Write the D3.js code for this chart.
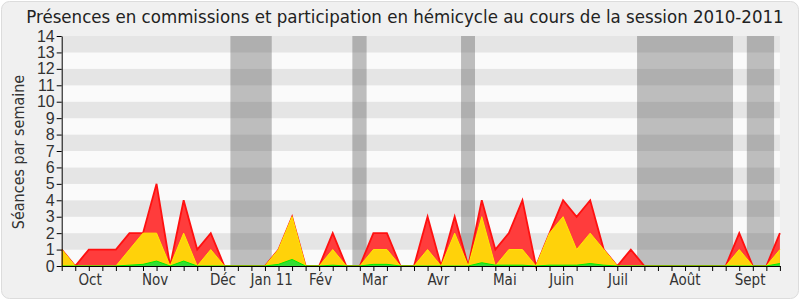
<!DOCTYPE html>
<html>
<head>
<meta charset="utf-8">
<script src="https://cdn.jsdelivr.net/npm/d3@7"></script>
<style>
  body { margin: 0; background: #fff; }
  svg { display: block; font-family: "DejaVu Sans Condensed", "DejaVu Sans", sans-serif; font-stretch: condensed; }
</style>
</head>
<body>
<svg id="chart" width="800" height="300"></svg>
<script>
// ---------- data (one point per week, session 2010-2011) ----------
const weekIndex = d3.range(54);
// total séances (red)
const hemicycle = [1,0,1,1,1,2,2,5,0,4,1,2,0,0,0,0,1,3,0,0,2,0,0,2,2,0,0,3,0,3,0,4,1,2,4,0,2,4,3,4,1,0,1,0,0,0,0,0,0,0,2,0,0,2];
// participations (yellow)
const participation = [1,0,0,0,0,1,2,2,0,2,0,1,0,0,0,0,1,3,0,0,1,0,0,1,1,0,0,1,0,2,0,3,0,1,1,0,2,3,1,2,1,0,0,0,0,0,0,0,0,0,1,0,0,1];
// commissions (green)
const commission = [0,0,0,0,0,0.05,0.1,0.3,0,0.3,0,0,0,0,0,0,0.1,0.4,0,0,0.05,0,0,0.1,0.1,0,0,0,0,0,0,0.2,0.05,0.05,0.05,0,0.05,0.05,0.05,0.15,0.05,0,0,0,0,0,0,0,0,0,0,0,0,0.15];
// vacances parlementaires (week index ranges)
const vacStart = [12.45, 21.45, 29.47, 42.46, 50.56];
const vacEnd   = [15.5, 22.5, 30.5, 49.54, 52.57];
// month labels and their week position
const monthLabels = ["Oct","Nov","Déc","Jan 11","Fév","Mar","Avr","Mai","Juin","Juil","Août","Sept"];
const monthPos    = [2.1, 6.9, 11.9, 15.5, 19.1, 23.1, 27.8, 32.7, 36.9, 41.05, 46.0, 50.8];
const yTicks = d3.range(0, 15);

const svg = d3.select("#chart");
const plotLeft = 61.7, plotRight = 779.9, plotTop = 36, plotBottom = 266;

// ---------- background frame ----------
svg.append("rect")
  .attr("x", 1.5).attr("y", 1.5).attr("width", 797).attr("height", 297)
  .attr("rx", 8)
  .attr("fill", "#f0f0f0").attr("stroke", "#dcdcdc");

const x = d3.scaleLinear().domain([0, 53]).range([plotLeft, plotRight]);
const y = d3.scaleLinear().domain([0, 14]).range([plotBottom, plotTop]);

// stripes
svg.append("g").selectAll("rect")
  .data(d3.range(0, 14))
  .enter().append("rect")
  .attr("x", plotLeft).attr("width", plotRight - plotLeft)
  .attr("y", d => y(d + 1)).attr("height", d => y(d) - y(d + 1))
  .attr("fill", d => d % 2 === 1 ? "#e5e5e5" : "#fafafa");

// vacances
svg.append("g").selectAll("rect")
  .data(vacStart)
  .enter().append("rect")
  .attr("x", (d) => x(d))
  .attr("width", (d, i) => x(vacEnd[i]) - x(d))
  .attr("y", plotTop).attr("height", plotBottom - plotTop)
  .attr("fill", "rgb(50,50,50)").attr("fill-opacity", 0.3);

// ---------- areas ----------
function drawArea(values, fill, stroke, width) {
  const area = d3.area()
    .x((d, i) => x(weekIndex[i]))
    .y0(y(0))
    .y1(d => y(d));
  const line = d3.line()
    .x((d, i) => x(weekIndex[i]))
    .y(d => y(d));
  svg.append("path").datum(values).attr("d", area).attr("fill", fill);
  svg.append("path").datum(values).attr("d", line)
    .attr("fill", "none").attr("stroke", stroke).attr("stroke-width", width);
}
drawArea(hemicycle, "#ff3c3c", "#ff1010", 1.8);
drawArea(participation, "#ffd20a", "#ffea00", 1);
drawArea(commission, "#33dd33", "#00ee00", 1);

// ---------- axes ----------
const yAxis = d3.axisLeft(y).tickValues(yTicks).tickSize(5).tickSizeOuter(0);
const gy = svg.append("g").attr("transform", `translate(${plotLeft},0)`).call(yAxis);
gy.select(".domain").attr("stroke", "#000");
gy.selectAll("line").attr("stroke", "#000");
gy.selectAll("text").attr("font-size", 16).attr("fill", "#333")
  .attr("font-family", null).attr("dx", "1");

const xAxis = d3.axisBottom(x).tickValues(weekIndex).tickSize(5).tickFormat("").tickSizeOuter(0);
const gx = svg.append("g").attr("transform", `translate(0,${plotBottom})`).call(xAxis);
gx.select(".domain").attr("stroke", "#000");
gx.selectAll("line").attr("stroke", "#000");

svg.append("g").selectAll("text")
  .data(monthLabels)
  .enter().append("text")
  .attr("x", (d, i) => x(monthPos[i]))
  .attr("y", 285)
  .attr("text-anchor", "middle")
  .attr("font-size", 15)
  .attr("fill", "#333")
  .text(d => d);

// ---------- titles ----------
svg.append("text")
  .attr("x", 405).attr("y", 23)
  .attr("text-anchor", "middle")
  .attr("font-size", 18.5)
  .attr("fill", "#222")
  .text("Présences en commissions et participation en hémicycle au cours de la session 2010-2011");

svg.append("text")
  .attr("transform", "translate(24,152) rotate(-90)")
  .attr("text-anchor", "middle")
  .attr("font-size", 16)
  .attr("fill", "#333")
  .text("Séances par semaine");
</script>
</body>
</html>
